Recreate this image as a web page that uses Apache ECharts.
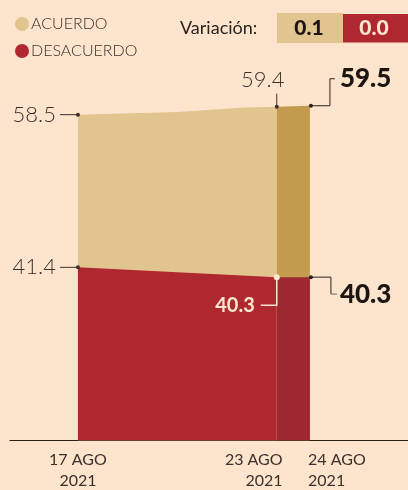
<!DOCTYPE html>
<html>
<head>
<meta charset="utf-8">
<script src="https://cdn.jsdelivr.net/npm/echarts@6/dist/echarts.min.js"></script>
<style>
  html, body { margin: 0; padding: 0; background: #fde4cd; }
  #chart { width: 408px; height: 490px; }
</style>
</head>
<body>
<div id="chart"></div>
<script>
// datos
var diasEtiqueta = [17, 23, 24];
var etiquetasX = ['17 AGO\n2021', '23 AGO\n2021', '24 AGO\n2021'];
var diaAcuerdo = [17, 20, 22, 23];
var acuerdo = [58.5, 58.8, 59.3, 59.4];
var diaDesacuerdo = [17, 23];
var desacuerdo = [41.4, 40.3];
var ultimoDia = [23, 24];
var acuerdoUltimo = [59.4, 59.5];
var desacuerdoUltimo = [40.3, 40.3];

var BEIGE = '#e2c48f', ORO = '#c39b4e', ROJO = '#b0282f', ROJO2 = '#9e2832';
var TINTA = '#3b302b', NEGRO = '#1c1512', CREMA = '#fce6cf';

function pares(xs, ys) {
    return xs.map(function (x, i) { return [x, ys[i]]; });
}

// notas con linea guia (forma, no datos)
var notas = [
    [diaAcuerdo[0], acuerdo[0]],
    [diaDesacuerdo[0], desacuerdo[0]],
    [ultimoDia[0], acuerdoUltimo[0]],
    [ultimoDia[1], acuerdoUltimo[1]],
    [ultimoDia[0], desacuerdoUltimo[0]],
    [ultimoDia[1], desacuerdoUltimo[1]]
];
var notasForma = [
    { linea: [[0, 0], [-18, 0]], texto: [-22, 0], alinear: 'right', color: TINTA, tam: 22, peso: 300, radio: 2, punto: 0 },
    { linea: [[0, 0], [-18, 0]], texto: [-22, 0], alinear: 'right', color: TINTA, tam: 22, peso: 300, radio: 2, punto: 0 },
    { linea: [[0, 0], [0, -13]], texto: [-14, -27], alinear: 'center', color: TINTA, tam: 22, peso: 300, radio: 2, punto: 0 },
    { linea: [[1, 0], [20, 0], [20, -27], [25, -27]], texto: [30, -27], alinear: 'left', color: NEGRO, tam: 26, peso: 900, radio: 2, punto: 1 },
    { linea: [[0, 0], [0, 28], [-16, 28]], texto: [-22, 28], alinear: 'right', color: CREMA, tam: 20, peso: 'bold', radio: 3, punto: 0, ancho: 1.5 },
    { linea: [[1, 0], [21, 0], [21, 17]], gris: [[21, 17], [27, 17]], texto: [30, 17], alinear: 'left', color: NEGRO, tam: 26, peso: 900, radio: 2, punto: 1 }
];

function dibujarNota(params, api) {
    var n = notasForma[params.dataIndex];
    var p = api.coord([api.value(0), api.value(1)]);
    var mover = function (d) { return [p[0] + d[0], p[1] + d[1]]; };
    var trazo = n.color === NEGRO ? '#2a2220' : n.color;
    var hijos = [
        { type: 'polyline', shape: { points: n.linea.map(mover) }, style: { stroke: trazo, lineWidth: n.ancho || 1, fill: null } },
        { type: 'circle', shape: { cx: p[0] + n.punto, cy: p[1], r: n.radio }, style: { fill: trazo } },
        { type: 'text', style: {
            text: api.value(1).toFixed(1), x: p[0] + n.texto[0], y: p[1] + n.texto[1],
            align: n.alinear, verticalAlign: 'middle', fill: n.color,
            fontFamily: 'Lato', fontSize: n.tam, fontWeight: n.peso
        } }
    ];
    if (n.gris) {
        hijos.push({ type: 'polyline', shape: { points: n.gris.map(mover) }, style: { stroke: '#9a8f88', lineWidth: 1.5, fill: null } });
    }
    return { type: 'group', children: hijos };
}

function area(nombre, datos, color) {
    return {
        name: nombre, type: 'line', data: datos, showSymbol: false, silent: true,
        lineStyle: { width: 0 }, itemStyle: { color: color },
        areaStyle: { color: color, opacity: 1, origin: 'start' }
    };
}

// etiqueta del eje x: 17 centrada, 23 hacia la izquierda, 24 hacia la derecha
function etiqueta(v) {
    var i = diasEtiqueta.indexOf(Math.round(v));
    var t = etiquetasX[i].split('\n');
    if (i === 1) return '{r|' + t[0] + '}{sr|}\n{r|' + t[1] + '}{sr|}';
    if (i === 2) return '{sl|}{l|' + t[0] + '}\n{sl|}{l|' + t[1] + '}';
    return '{c|' + t[0] + '}\n{c|' + t[1] + '}';
}
var richX = {
    c: { fontSize: 16, lineHeight: 21, color: TINTA, fontFamily: 'Lato', align: 'center' },
    r: { fontSize: 16, lineHeight: 21, color: TINTA, fontFamily: 'Lato', align: 'right' },
    sr: { width: 46, lineHeight: 21, align: 'right' },
    l: { fontSize: 16, lineHeight: 21, color: TINTA, fontFamily: 'Lato', align: 'left' },
    sl: { width: 54, lineHeight: 21, align: 'left' }
};
function ejeX(valores, conLinea) {
    return {
        type: 'value', min: 14.95, max: 26.96, position: 'bottom', offset: 0,
        axisLine: { show: conLinea, onZero: false, lineStyle: { color: '#2b1d17', width: 1.2 } },
        axisTick: { show: false },
        splitLine: { show: false },
        axisLabel: { customValues: valores, margin: 9, hideOverlap: false, formatter: etiqueta, rich: richX }
    };
}

var varAcuerdo = (acuerdoUltimo[1] - acuerdoUltimo[0]).toFixed(1);
var varDesacuerdo = (desacuerdoUltimo[1] - desacuerdoUltimo[0]).toFixed(1);

var option = {
    backgroundColor: '#fde4cd',
    animation: false,
    textStyle: { fontFamily: 'Lato' },
    grid: { left: 10, right: 0, top: 12, bottom: 49.5 },
    legend: {
        orient: 'vertical', left: 10, top: 11, itemWidth: 14, itemHeight: 14, itemGap: 11,
        icon: 'circle', selectedMode: false,
        textStyle: { fontSize: 16, color: TINTA, fontWeight: 300, padding: [0, 0, 0, -3] },
        data: [
            { name: 'ACUERDO', itemStyle: { color: BEIGE } },
            { name: 'DESACUERDO', itemStyle: { color: ROJO } }
        ]
    },
    graphic: [
        { type: 'text', left: 180, top: 19, style: { text: 'Variación:', fontFamily: 'Lato', fontSize: 18, fill: '#2a2320' } },
        { type: 'rect', shape: { x: 277, y: 13, width: 66, height: 30 }, style: { fill: BEIGE } },
        { type: 'rect', shape: { x: 343, y: 14, width: 65, height: 28.5 }, style: { fill: ROJO } },
        { type: 'text', x: 309, y: 28.5, style: { text: varAcuerdo, align: 'center', verticalAlign: 'middle', fontFamily: 'Lato', fontWeight: 900, fontSize: 21, fill: NEGRO } },
        { type: 'text', x: 374, y: 28.5, style: { text: varDesacuerdo, align: 'center', verticalAlign: 'middle', fontFamily: 'Lato', fontWeight: 900, fontSize: 21, fill: CREMA } }
    ],
    xAxis: [
        ejeX([diasEtiqueta[0], diasEtiqueta[1]], true),
        ejeX([diasEtiqueta[2]], false)
    ],
    yAxis: { type: 'value', min: 22, max: 70, show: false, splitLine: { show: false } },
    series: [
        area('ACUERDO', pares(diaAcuerdo, acuerdo), BEIGE),
        area('DESACUERDO', pares(diaDesacuerdo, desacuerdo), ROJO),
        area('ACUERDO último', pares(ultimoDia, acuerdoUltimo), ORO),
        area('DESACUERDO último', pares(ultimoDia, desacuerdoUltimo), ROJO2),
        {
            type: 'custom', coordinateSystem: 'cartesian2d', data: notas,
            renderItem: dibujarNota, silent: true, clip: false, z: 5
        }
    ]
};

var mychart = echarts.init(document.getElementById('chart'));
mychart.setOption(option);
</script>
</body>
</html>
